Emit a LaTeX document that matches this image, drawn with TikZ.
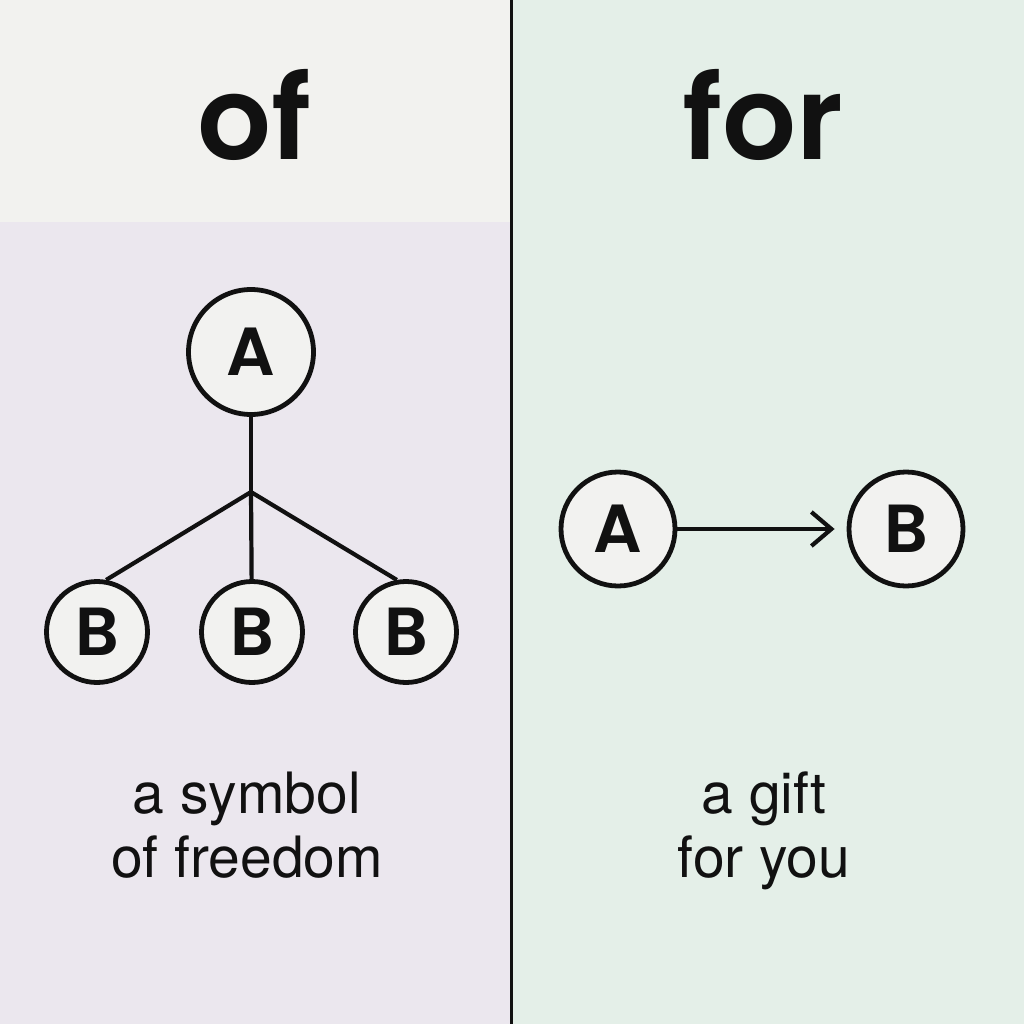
\documentclass[tikz,border=0pt]{standalone}
\usepackage{fontspec}
\setmainfont{TeX Gyre Heros}
\newfontfamily\titlefont{Poppins SemiBold}
\usetikzlibrary{arrows.meta}
\definecolor{topband}{HTML}{F2F2EF}
\definecolor{lavender}{HTML}{EBE7EE}
\definecolor{mint}{HTML}{E4EFE8}
\definecolor{nodefill}{HTML}{F2F2F0}
\definecolor{ink}{HTML}{111111}
\tikzset{
  ring/.style={circle, draw=ink, fill=nodefill, line width=4.8pt, inner sep=0pt,
    font=\titlefont\fontsize{68}{68}\selectfont, text=ink},
  bigring/.style={ring, minimum size=125pt},
  smallring/.style={ring, minimum size=101pt},
  midring/.style={ring, minimum size=114pt},
  link/.style={draw=ink, line width=4.2pt},
  title/.style={font=\titlefont\fontsize{116}{116}\selectfont, text=ink, anchor=base, inner sep=0pt},
  caption/.style={font=\fontsize{57}{64}\selectfont, text=ink, align=center, anchor=base, inner sep=0pt}
}
\begin{document}
\begin{tikzpicture}[x=1pt,y=-1pt]
\useasboundingbox (0,0) rectangle (1024,1024);
\fill[topband] (0,0) rectangle (511,222);
\fill[lavender] (0,222) rectangle (511,1024);
\fill[mint] (511,0) rectangle (1024,1024);
\fill[ink] (509.5,0) rectangle (513,1024);

\node[title] (tof) at (255,160) {of};
\node[title] (tfor) at (763,160) {for};

% left tree
\node[bigring] (A1) at (251,352) {A};
\coordinate (J) at (251,492);
\node[smallring] (B1) at (97,632) {B};
\node[smallring] (B2) at (252,632) {B};
\node[smallring] (B3) at (406,632) {B};
\draw[link] (A1) -- (J);
\draw[link] (J) -- (B1.80);
\draw[link] (J) -- (B2);
\draw[link] (J) -- (B3.100);

% right pair
\node[midring] (A2) at (618,529) {A};
\node[midring] (B4) at (906,529) {B};
\draw[link, -{Straight Barb[length=20pt,width=34pt,line width=4.2pt]}, shorten >=12pt] (A2) -- (B4);

\node[caption] (c1) at (247,877) {a symbol\\of freedom};
\node[caption] (c2) at (764,877) {a gift\\for you};
\end{tikzpicture}
\end{document}
